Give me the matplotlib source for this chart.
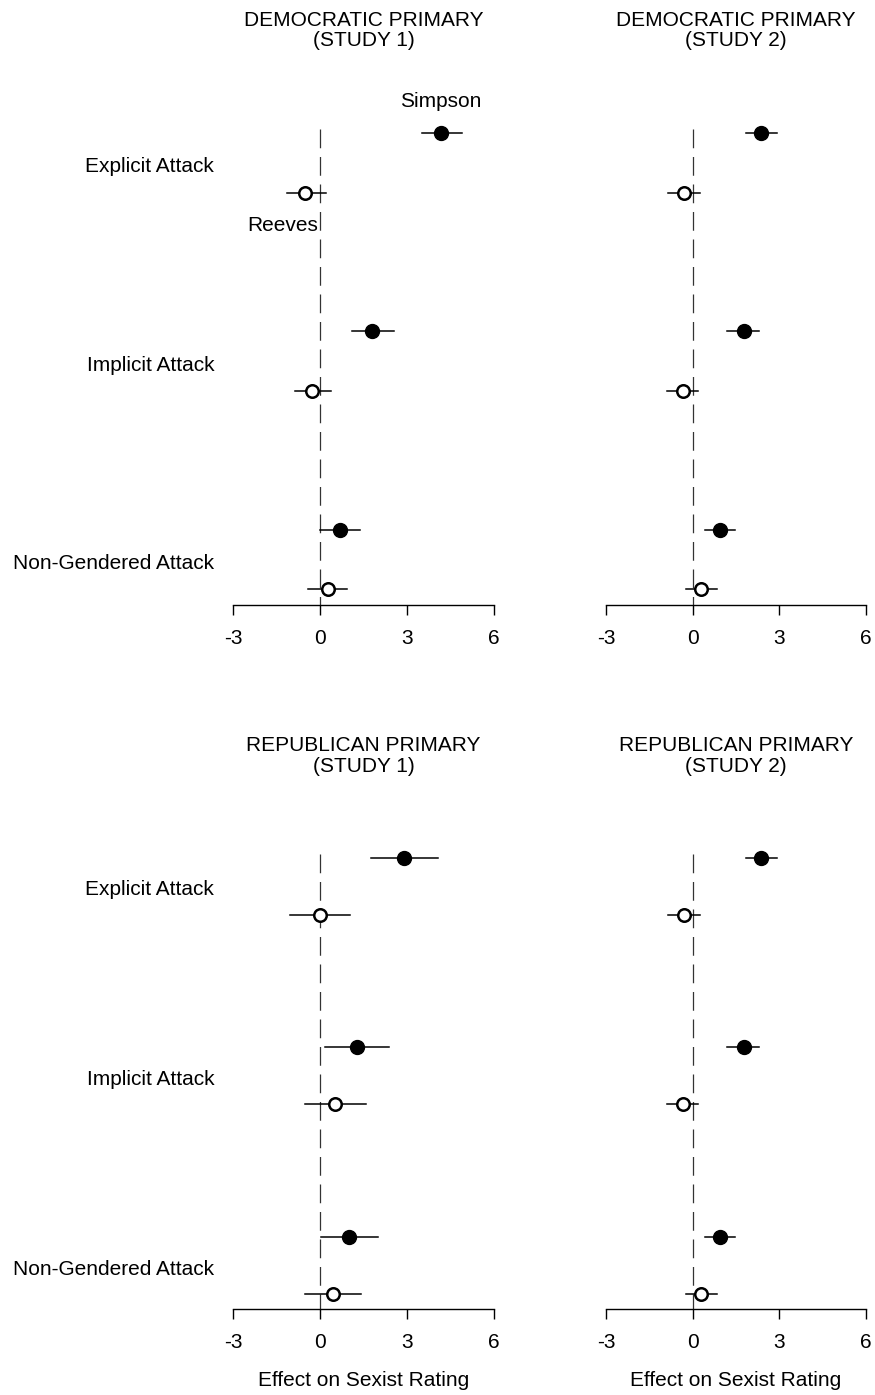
import matplotlib.pyplot as plt

plt.rcParams['font.family'] = ['Liberation Sans', 'DejaVu Sans']

attacks = ['Explicit Attack', 'Implicit Attack', 'Non-Gendered Attack']
title_top = ['DEMOCRATIC PRIMARY', 'DEMOCRATIC PRIMARY',
             'REPUBLICAN PRIMARY', 'REPUBLICAN PRIMARY']
title_sub = ['(STUDY 1)', '(STUDY 2)', '(STUDY 1)', '(STUDY 2)']
xticks = [-3, 0, 3, 6]

# effects: estimate, lower, upper per attack, for each panel
simpson_est = [[4.17, 1.79, 0.69], [2.38, 1.76, 0.93],
               [2.90, 1.28, 1.00], [2.38, 1.76, 0.93]]
simpson_lo = [[3.50, 1.10, 0.00], [1.83, 1.20, 0.41],
              [1.76, 0.17, 0.03], [1.83, 1.20, 0.41]]
simpson_hi = [[4.90, 2.55, 1.38], [2.93, 2.30, 1.48],
              [4.07, 2.38, 2.00], [2.93, 2.30, 1.48]]
reeves_est = [[-0.52, -0.28, 0.28], [-0.31, -0.34, 0.28],
              [0.00, 0.52, 0.45], [-0.31, -0.34, 0.28]]
reeves_lo = [[-1.14, -0.86, -0.41], [-0.86, -0.90, -0.24],
             [-1.03, -0.52, -0.52], [-0.86, -0.90, -0.24]]
reeves_hi = [[0.20, 0.38, 0.93], [0.24, 0.20, 0.83],
             [1.03, 1.59, 1.41], [0.24, 0.20, 0.83]]

W, H = 875, 1395
fig = plt.figure(figsize=(W / 100, H / 100), dpi=100)

# pixel boxes: left, axis bottom, width, px per group, title y
boxes = [(233, 605, 261, 198.3, 20), (606, 605, 260, 198.3, 20),
         (233, 1309, 261, 189.6, 745), (606, 1309, 260, 189.6, 745)]
ylo, yhi = 2.23, -0.25
off = 0.15

for k, (lx, by, w, pg, ty) in enumerate(boxes):
    h = (ylo - yhi) * pg
    ax = fig.add_axes([lx / W, 1 - by / H, w / W, h / H])
    ax.set_xlim(-3, 6)
    ax.set_ylim(ylo, yhi)
    groups = range(len(attacks))
    ys = [g - off for g in groups]
    yr = [g + off for g in groups]
    ax.plot([0, 0], [-off - 0.02, ylo], color='#333333', lw=0.9,
            dashes=(15, 7), zorder=1)
    for i in groups:
        ax.plot([simpson_lo[k][i], simpson_hi[k][i]], [ys[i], ys[i]],
                color='black', lw=1.1, zorder=2)
        ax.plot([reeves_lo[k][i], reeves_hi[k][i]], [yr[i], yr[i]],
                color='black', lw=1.1, zorder=2)
    ax.plot(simpson_est[k], ys, 'o', color='black', ms=10, zorder=3)
    ax.plot(reeves_est[k], yr, 'o', mfc='white', mec='black', mew=1.8,
            ms=9, zorder=3)
    for s in ['top', 'left', 'right']:
        ax.spines[s].set_visible(False)
    ax.spines['bottom'].set_linewidth(1.0)
    ax.set_xticks(xticks)
    ax.set_xticklabels([str(t) for t in xticks])
    ax.tick_params(axis='x', length=7, width=1.0, labelsize=15, pad=10)
    ax.set_yticks([])
    if k % 2 == 0:
        for i in groups:
            ax.text(-3.65, i + 0.02, attacks[i], ha='right', va='center',
                    fontsize=15, clip_on=False)
    cx = (lx + w / 2) / W
    fig.text(cx, 1 - ty / H, title_top[k], ha='center', va='center',
             fontsize=15)
    fig.text(cx, 1 - (ty + 21) / H, title_sub[k], ha='center',
             va='center', fontsize=15)
    if k == 0:
        ax.text(simpson_est[0][0], -off - 0.16, 'Simpson', ha='center',
                va='center', fontsize=15)
        ax.text(-0.05, off + 0.165, 'Reeves', ha='right', va='center',
                fontsize=15)
    if k >= 2:
        fig.text(cx, 1 - 1381 / H, 'Effect on Sexist Rating',
                 ha='center', va='center', fontsize=15)

fig.savefig('out.png', dpi=100)
